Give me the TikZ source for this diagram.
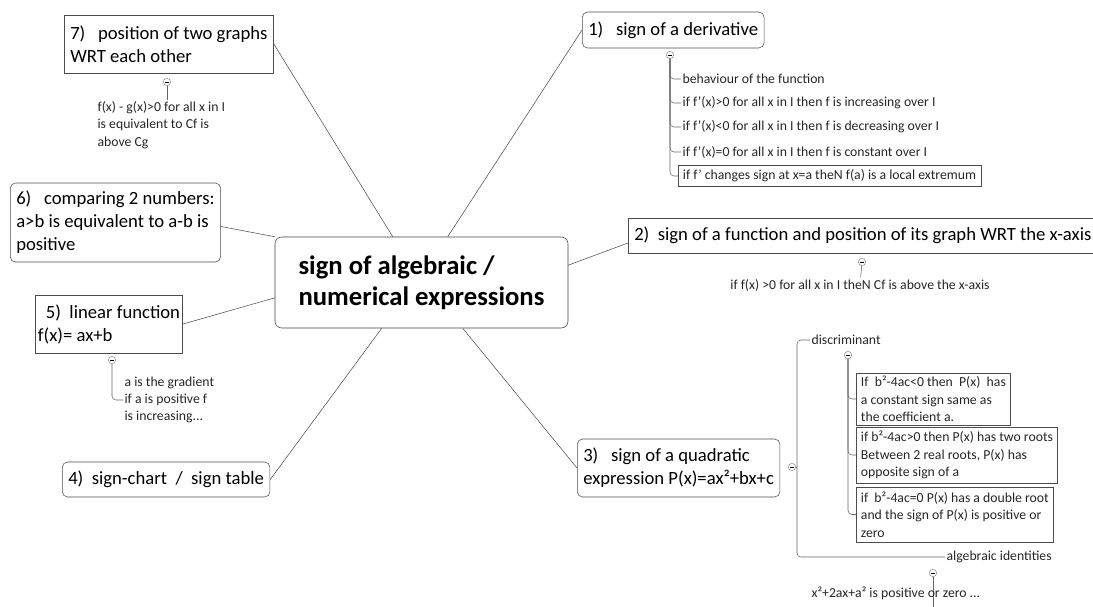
\documentclass[tikz,border=0pt]{standalone}
\usepackage{fontspec}
\setmainfont{Carlito}
\usetikzlibrary{positioning,calc}
\tikzset{
  ctr/.style={draw=black!75, rounded corners=5pt, font=\bfseries\fontsize{20}{23}\selectfont,
    align=left, minimum width=219.75pt, minimum height=68.25pt},
  tbox/.style={draw=black!70, rounded corners=4pt, font=\fontsize{14}{17.25}\selectfont,
    align=left, inner xsep=4.5pt, inner ysep=1pt, anchor=west},
  sbox/.style={tbox, sharp corners},
  leaf/.style={font=\fontsize{10.3}{13}\selectfont, align=left, inner sep=1pt, text=black!85},
  lbox/.style={leaf, draw=black!70, inner xsep=3.5pt, anchor=west},
  mk/.style={circle, draw=black!45, inner sep=0pt, minimum size=5.5pt},
  lnk/.style={draw=black!70, thin},
  tre/.style={draw=black!60, thin, rounded corners=3pt},
}
\newcommand{\mkm}{\rule[0.2pt]{2.4pt}{0.35pt}}
\begin{document}
\begin{tikzpicture}[x=0.75pt,y=-0.75pt]
\useasboundingbox (0,0) rectangle (1093,607);
% central topic
\node[ctr] (ctr) at (421.5,282.5) {sign of algebraic /\\numerical expressions};

% main topics
\node[sbox, minimum height=43.5pt] (b7) at (64,44) {7)\ \ \ position of two graphs\\WRT each other};
\node[tbox, minimum height=27pt] (b1) at (582,30) {1)\ \ \ sign of a derivative};
\node[sbox, minimum height=26.25pt] (b2) at (628,235.5) {2)\ \ sign of a function and position of its graph WRT the x-axis\hspace{6pt}};
\node[tbox, minimum height=43.5pt] (b3) at (577,468) {3)\ \ \ sign of a quadratic\\expression P(x)=ax²+bx+c};
\node[tbox, minimum height=26.25pt] (b4) at (62,479.5) {4)\ \ sign-chart\ \ /\ \ sign table};
\node[sbox, inner xsep=2pt, minimum height=43.5pt] (b5) at (35,324) {\hspace*{6pt}5)\ \ linear function\\f(x)= ax+b};
\node[tbox, minimum height=59.25pt] (b6) at (10,222.5) {6)\ \ \ comparing 2 numbers:\\a>b is equivalent to a-b is\\positive};

\draw[lnk] (b7.east) -- ([xshift=88.5pt]ctr.north west);
\draw[lnk] (b1.west) -- ([xshift=129.75pt]ctr.north west);
\draw[lnk] ([yshift=-5.6pt]b2.west) -- ([yshift=13pt]ctr.east);
\draw[lnk] (b3.west) -- ([xshift=141pt]ctr.south west);
\draw[lnk] (b4.east) -- ([xshift=80.25pt]ctr.south west);
\draw[lnk] (b5.east) -- ([yshift=-11.5pt]ctr.west);
\draw[lnk] ([yshift=-3pt]b6.east) -- (ctr.north west);

% 7) two graphs
\node[mk] (m7) at (167,82) {\mkm};
\node[leaf, anchor=west] (l7) at (96,125) {f(x) - g(x)>0 for all x in I\\is equivalent to Cf is\\above Cg};
\draw[tre] (m7) -- (m7 |- l7.north);

% 1) derivative
\node[mk] (m1) at (670,55) {\mkm};
\node[leaf, anchor=west] (d1) at (681,79) {behaviour of the function};
\node[leaf, anchor=west] (d2) at (681,103) {if f'(x)>0 for all x in I then f is increasing over I};
\node[leaf, anchor=west] (d3) at (681,127) {if f'(x)<0 for all x in I then f is decreasing over I};
\node[leaf, anchor=west] (d4) at (681,152) {if f'(x)=0 for all x in I then f is constant over I};
\node[lbox, minimum height=15.75pt] (d5) at (678,176) {if f' changes sign at x=a theN f(a) is a local extremum};
\foreach \n in {d1,d2,d3,d4,d5}
  \draw[tre] (m1.south) |- (\n.west);

% 2) x-axis
\node[mk] (m2) at (862,262) {\mkm};
\node[leaf] (l2) at (860,285) {if f(x) >0 for all x in I theN Cf is above the x-axis};
\draw[tre] (m2) -- (l2);

% 5) linear function
\node[mk] (m5) at (112,360) {\mkm};
\node[leaf, anchor=west] (l5) at (123,400) {a is the gradient\\if a is positive f\\is increasing...};
\draw[tre] (m5.south) |- (l5.west);

% 3) quadratic
\node[mk] (m3) at (792,467) {\mkm};
\coordinate (qk) at (797,467);
\node[leaf, anchor=west] (disc) at (810,340) {discriminant};
\node[leaf, anchor=west] (alg) at (945,557) {algebraic identities};
\draw[tre] (m3) -- (qk);
\draw[tre] (disc.west) -| (qk) |- (alg.west);

\node[mk] (md) at (848,355) {\mkm};
\node[lbox, minimum height=39pt] (qa) at (856,399) {If\ \ b²-4ac<0 then\ \ P(x)\ \ has\\a constant sign same as\\the coefficient a.};
\node[lbox, minimum height=42pt] (qb) at (856,455) {if b²-4ac>0 then P(x) has two roots\\Between 2 real roots, P(x) has\\opposite sign of a};
\node[lbox, minimum height=41.25pt] (qc) at (856,514.5) {if\ \ b²-4ac=0 P(x) has a double root\\and the sign of P(x) is positive or\\zero};
\foreach \n in {qa,qb,qc}
  \draw[tre] (md.south) |- (\n.west);

\node[mk] (mi) at (933,573) {\mkm};
\coordinate (iend) at (933,612);
\draw[tre] (mi) -- (iend);
\node[leaf, anchor=west] (lid) at (810,593) {x²+2ax+a² is positive or zero ...};
\end{tikzpicture}
\end{document}
